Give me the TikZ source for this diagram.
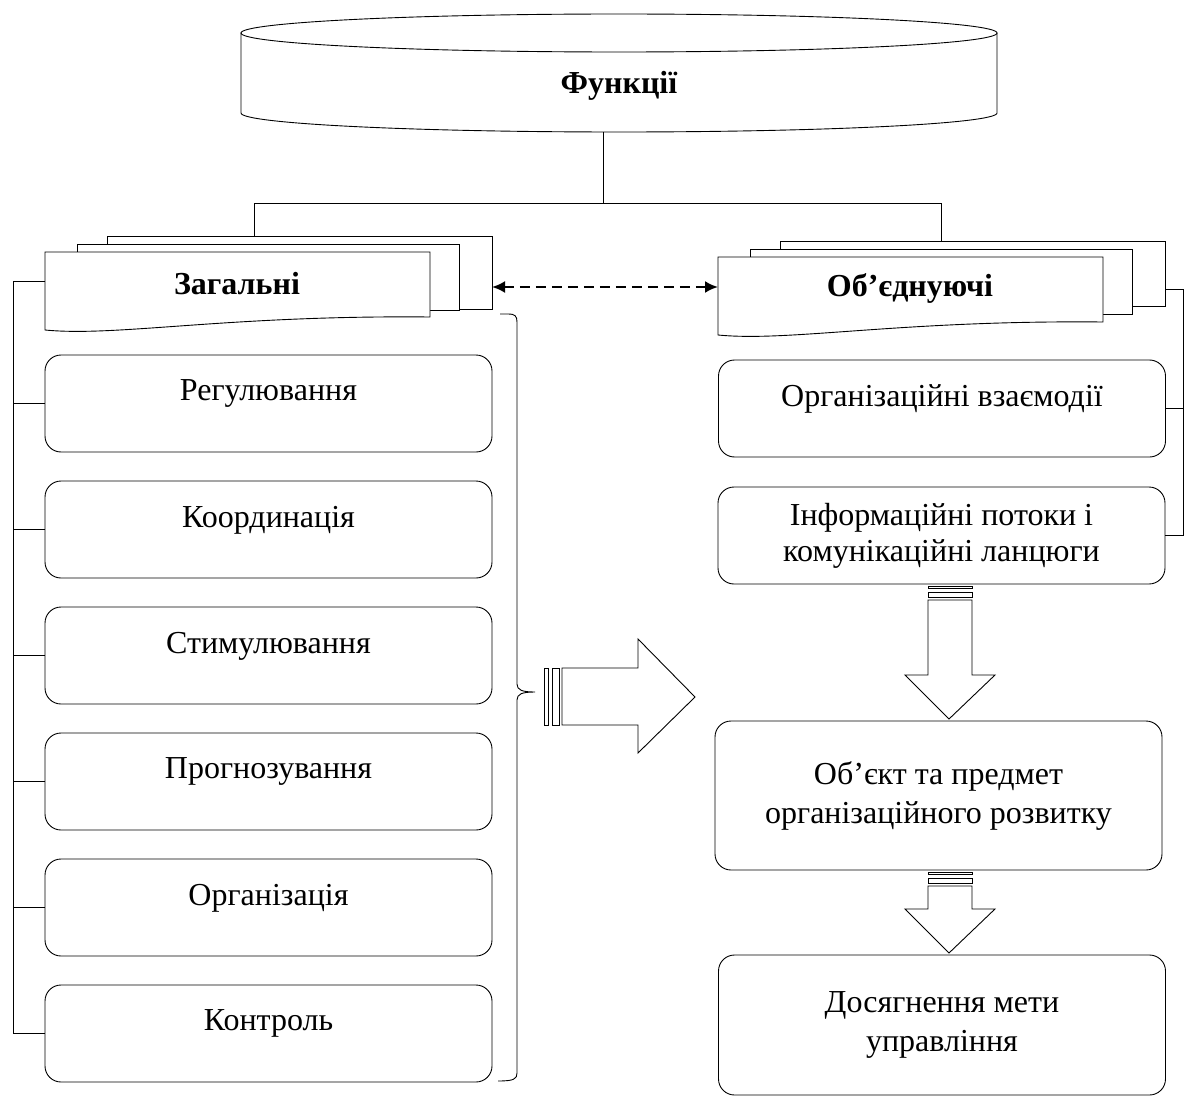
\documentclass[tikz,border=0pt]{standalone}
\usepackage{fontspec}
\setmainfont{Liberation Serif}
\usetikzlibrary{arrows.meta}
\tikzset{
  funcbox/.style={draw, rounded corners=16pt, minimum width=447pt, minimum height=97pt, align=center, font=\fontsize{32}{36}\selectfont},
  raised/.style={text depth=26pt},
  wide/.style={font=\fontsize{32}{39}\selectfont},
  sheet/.style={draw, fill=white},
  hd/.style={font=\fontsize{32}{36}\selectfont\bfseries},
}
\begin{document}
\begin{tikzpicture}[x=1pt,y=-1pt,line width=0.9pt]
\fill[white] (0,0) rectangle (1184,1097);
\useasboundingbox (0,0) rectangle (1184,1097);
% top cylinder
\draw[fill=white] (241,33) -- (241,113) arc[start angle=180,end angle=0,x radius=378,y radius=19] -- (997,33);
\draw (619,33) ellipse[x radius=378,y radius=19];
\node[hd] (fun) at (619,86) {Функції};
\coordinate (funb) at (603,132);
\coordinate (jl) at (254,236); \coordinate (jr) at (941,241);
\draw (funb) -- (603,203);
\draw (jl) -- (254,203) -- (941,203) -- (jr);
% left stack
\node[sheet, minimum width=385pt, minimum height=73pt] (genc) at (299.5,272.5) {};
\node[sheet, minimum width=382pt, minimum height=66pt] (genb) at (268,277) {};
\draw[fill=white] (45,252) -- (430,252) -- (430,317) .. controls (227,315) and (117,337) .. (45,330) -- cycle;
\node[hd] (gen) at (237,284) {Загальні};
\coordinate (genl) at (45,281);
% right stack
\node[sheet, minimum width=385pt, minimum height=65pt] (unic) at (972.5,273.5) {};
\node[sheet, minimum width=382pt, minimum height=65pt] (unib) at (941,281.5) {};
\draw[fill=white] (718,257) -- (1103,257) -- (1103,322) .. controls (900,320) and (790,342) .. (718,335) -- cycle;
\node[hd] (uni) at (910,288) {Об’єднуючі};
% dashed link
\coordinate (dl) at (492,287); \coordinate (dr) at (718,287);
\draw[line width=2.2pt, dash pattern=on 10pt off 6pt, {Latex[length=13pt,width=12pt]}-{Latex[length=13pt,width=12pt]}] (dl) -- (dr);
% general functions
\foreach \name/\txt [count=\i] in {reg/Регулювання, coord/Координація, stim/Стимулювання, prog/Прогнозування, org/Організація, ctl/Контроль}{
\node[funcbox,raised] (\name) at (268.5,{403.5+126*(\i-1)}) {\txt};
\draw (\name.west) -- (13,0 |- \name.west);}
\draw (genl) -- (13,281) -- (13,0 |- ctl.west);
% brace
\draw (500,314) -- (508,314) .. controls (515,314) and (517,316) .. (517,322) -- (517,684)
  .. controls (517,690) and (522,692) .. (535,692) .. controls (522,692) and (517,694) .. (517,700)
  -- (517,1073) .. controls (517,1079) and (514,1081) .. (498,1081);
% big arrow
\draw[fill=white] (562,668) -- (638,668) -- (638,639) -- (695,697) -- (638,753) -- (638,725) -- (562,725) -- cycle;
\draw (544,668) rectangle (548,725);
\draw (552,668) rectangle (559,725);
% uniting functions
\node[funcbox,raised] (inter) at (942,408.5) {Організаційні взаємодії};
\node[funcbox] (info) at (941.5,535.5) {Інформаційні потоки і\\комунікаційні ланцюги};
\node[funcbox, wide, minimum height=149pt] (obj) at (938.5,795.5) {Об’єкт та предмет\\організаційного розвитку};
\node[funcbox, wide, minimum height=140pt] (goal) at (942,1025) {Досягнення мети\\управління};
\draw (unic.east |- 0,289) -- (1183,289) -- (1183,0 |- info.east);
\foreach \n in {inter,info}
\draw (\n.east) -- (1183,0 |- \n.east);
% down arrows
\foreach \t/\e in {584/719, 870/953}{
\draw (928,\t+2) rectangle (972,\t+4);
\draw (928,\t+8) rectangle (972,\t+13);
\draw[fill=white] (928,\t+16) -- (928,\e-44) -- (905,\e-44) -- (949,\e) -- (995,\e-44) -- (972,\e-44) -- (972,\t+16) -- cycle;}
\end{tikzpicture}
\end{document}
